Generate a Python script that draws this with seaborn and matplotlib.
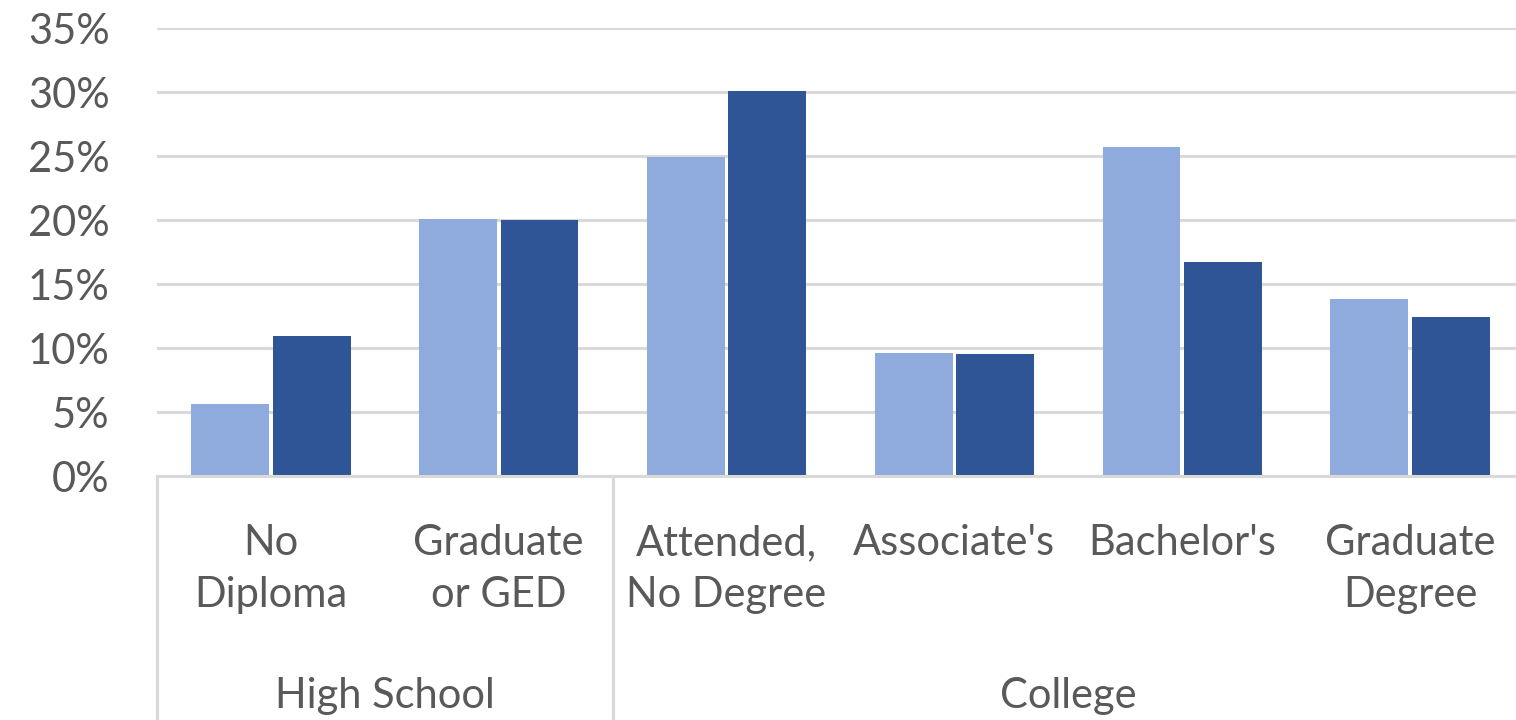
import pandas as pd
import matplotlib.pyplot as plt
import matplotlib.transforms as mtransforms
import seaborn as sns

# Values (percent)
categories = ['No\nDiploma', 'Graduate\nor GED', 'Attended,\nNo Degree',
              "Associate's", "Bachelor's", 'Graduate\nDegree']
groups = ['High School', 'College']
group_sizes = [2, 4]
series_names = ['Series 1', 'Series 2']
series_1 = [5.6, 20.1, 24.9, 9.6, 25.7, 13.8]
series_2 = [10.9, 20.0, 30.1, 9.5, 16.7, 12.4]
y_ticks = [0, 5, 10, 15, 20, 25, 30, 35]

colors = ['#8FAADC', '#2F5597']
grid_color = '#D9D9D9'
text_color = '#595959'

df = pd.DataFrame({
    'level': categories * 2,
    'share': series_1 + series_2,
    'series': [series_names[0]] * len(categories) + [series_names[1]] * len(categories),
})

sns.set_style('white')
plt.rcParams['font.family'] = ['Lato', 'DejaVu Sans']

fig = plt.figure(figsize=(15.16, 7.2), dpi=100)
ax = fig.add_axes([157 / 1516, 244 / 720, (1524 - 157) / 1516, 448 / 720])

sns.barplot(data=df, x='level', y='share', hue='series', order=categories,
            palette=colors, saturation=1, width=0.715, gap=0.043, linewidth=0,
            legend=False, ax=ax)

ax.set_ylim(0, 35)
ax.set_xlim(-0.5, len(categories) - 0.5)
ax.set_yticks(y_ticks)
ax.set_yticklabels([f'{v}%' for v in y_ticks])
ax.tick_params(axis='y', length=0, pad=34, labelsize=30, labelcolor=text_color)
ax.set_xticks([])
ax.set_xlabel('')
ax.set_ylabel('')

ax.yaxis.grid(True, color=grid_color, linewidth=2.2)
ax.set_axisbelow(True)
for side in ['left', 'right', 'top']:
    ax.spines[side].set_visible(False)
ax.spines['bottom'].set_color(grid_color)
ax.spines['bottom'].set_linewidth(2.2)

# Category labels and two-level group labels
trans = mtransforms.blended_transform_factory(ax.transData, fig.transFigure)
for i, label in enumerate(categories):
    ax.text(i, (720 - 524) / 720, label, transform=trans, ha='center', va='top',
            fontsize=30, color=text_color, linespacing=1.45, multialignment='center')

start = 0
edges = [-0.5]
for name, size in zip(groups, group_sizes):
    center = start + (size - 1) / 2
    ax.text(center, (720 - 708) / 720, name, transform=trans, ha='center',
            va='baseline', fontsize=30, color=text_color)
    start += size
    edges.append(start - 0.5)

for x in edges:
    ax.plot([x, x], [0, (720 - 476) / 720], transform=trans, color=grid_color,
            linewidth=2.2, clip_on=False)

fig.savefig('out.png', dpi=100)
